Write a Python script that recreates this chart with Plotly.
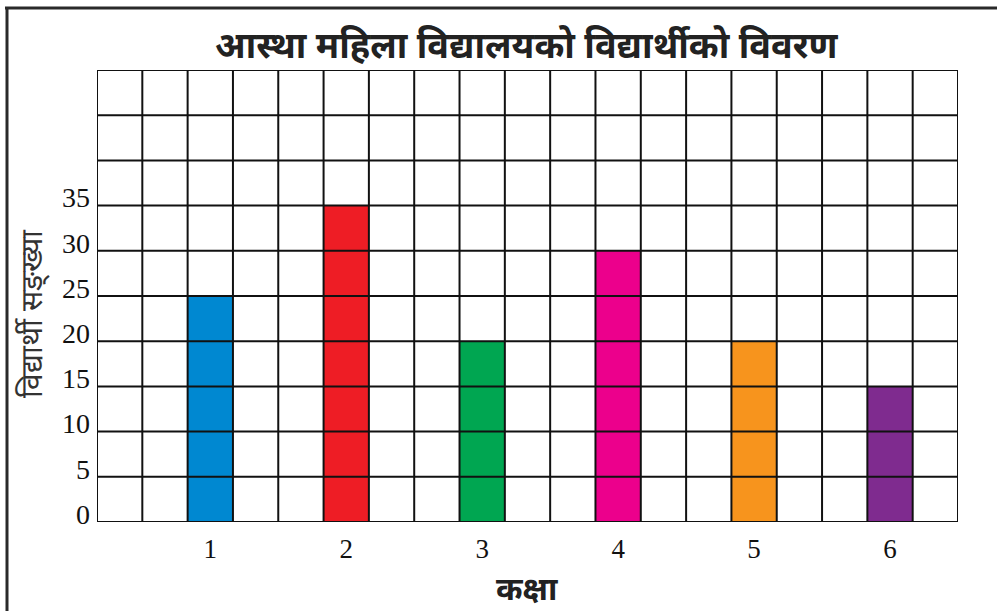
import plotly.graph_objects as go

# Class-wise student counts
classes = ["1", "2", "3", "4", "5", "6"]
students = [25, 35, 20, 30, 20, 15]
bar_colors = ["#0088d1", "#ee1d25", "#00a651", "#ec008c", "#f7941d", "#7f2b8f"]

# Each class sits in every third column of a 19-column grid
bar_cols = [2, 5, 8, 11, 14, 17]
n_cols = 19
y_max = 50
y_step = 5
y_ticks = [0, 5, 10, 15, 20, 25, 30, 35]

title_text = "आस्था महिला विद्यालयको विद्यार्थीको विवरण"
x_title = "कक्षा"
y_title = "विद्यार्थी सङ्ख्या"

fig = go.Figure()
fig.add_trace(go.Bar(
    x=bar_cols, y=students, width=1,
    marker=dict(color=bar_colors, line=dict(width=0)),
    hovertext=classes, showlegend=False,
))

# Square grid drawn on top of the bars
grid_style = dict(color="#111111", width=2)
for i in range(n_cols + 1):
    xv = i - 0.5
    fig.add_shape(type="line", xref="x", yref="y", x0=xv, x1=xv, y0=0, y1=y_max,
                  line=grid_style, layer="above")
for yv in range(0, y_max + 1, y_step):
    fig.add_shape(type="line", xref="x", yref="y", x0=-0.5, x1=n_cols - 0.5, y0=yv, y1=yv,
                  line=grid_style, layer="above")

# Page frame (top and left rules)
L, R, T, B = 97, 39, 70, 89
W, H = 997, 611
pw, ph = W - L - R, H - T - B
def px_x(p):
    return (p - L) / pw
def px_y(p):
    return (H - B - p) / ph
frame = dict(color="#2a2a2a", width=3)
fig.add_shape(type="line", xref="paper", yref="paper", x0=px_x(5), x1=px_x(997),
              y0=px_y(8), y1=px_y(8), line=frame)
fig.add_shape(type="line", xref="paper", yref="paper", x0=px_x(7), x1=px_x(7),
              y0=px_y(7), y1=px_y(611), line=frame)

fig.add_annotation(text=title_text, xref="paper", yref="paper",
                   x=px_x(527), y=px_y(44), xanchor="center", yanchor="middle",
                   showarrow=False,
                   font=dict(size=36, color="#222222", family="Noto Sans, sans-serif", weight="bold"))
fig.add_annotation(text=x_title, xref="paper", yref="paper",
                   x=px_x(527), y=px_y(587), xanchor="center", yanchor="middle",
                   showarrow=False,
                   font=dict(size=32, color="#222222", family="Noto Sans, sans-serif", weight="bold"))
fig.add_annotation(text=y_title, xref="paper", yref="paper",
                   x=px_x(30), y=px_y(314), xanchor="center", yanchor="middle",
                   showarrow=False, textangle=-90,
                   font=dict(size=30, color="#333333", family="Noto Serif, serif"))

fig.update_layout(
    width=W, height=H,
    margin=dict(l=L, r=R, t=T, b=B),
    paper_bgcolor="white", plot_bgcolor="white",
    xaxis=dict(range=[-0.5, n_cols - 0.5], tickmode="array", tickvals=bar_cols,
               ticktext=classes, showgrid=False, zeroline=False, showline=False,
               ticks="", ticklabelstandoff=8,
               tickfont=dict(family="Liberation Serif, serif", size=27, color="#111111"),
               fixedrange=True),
    yaxis=dict(range=[0, y_max], tickmode="array", tickvals=y_ticks,
               ticktext=[str(v) for v in y_ticks], showgrid=False, zeroline=False,
               showline=False, ticks="", ticklabelstandoff=6, ticklabelshift=-8,
               tickfont=dict(family="Liberation Serif, serif", size=28, color="#111111"),
               fixedrange=True),
    bargap=0,
)

fig.write_html("out.html")
